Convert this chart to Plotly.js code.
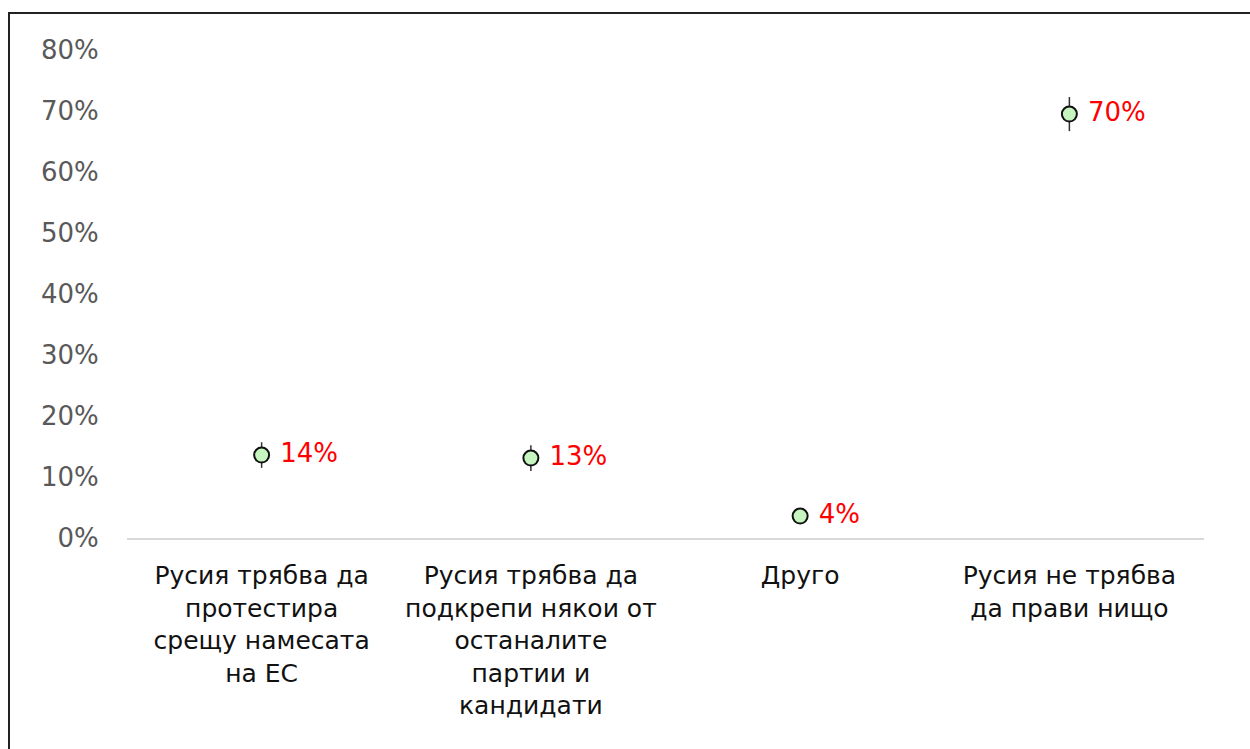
<!DOCTYPE html>
<html lang="bg">
<head>
<meta charset="utf-8">
<script src="https://cdn.plot.ly/plotly-3.0.1.min.js"></script>
<style>
  html, body { margin: 0; padding: 0; background: #fff; overflow: hidden; }
  #chart { width: 1250px; height: 749px; }
  #frame { position: absolute; left: 8px; top: 12px; width: 1300px; height: 800px;
           border-left: 2px solid #222; border-top: 2px solid #222; pointer-events: none; }
</style>
</head>
<body>
<div id="chart"></div>
<div id="frame"></div>
<script>
const categories = [
  "Русия трябва да<br>протестира<br>срещу намесата<br>на ЕС",
  "Русия трябва да<br>подкрепи някои от<br>останалите<br>партии и<br>кандидати",
  "Друго",
  "Русия не трябва<br>да прави нищо"
];
const values = [0.136, 0.131, 0.036, 0.695];
const errors = [0.021, 0.021, 0.010, 0.028];
const labels = ["14%", "13%", "4%", "70%"];

const trace = {
  type: "scatter",
  mode: "markers+text",
  x: categories,
  y: values,
  text: labels.map(l => " " + l),
  textposition: "middle right",
  textfont: { family: "DejaVu Sans, sans-serif", size: 26, color: "#ff0000" },
  marker: { size: 15, color: "#c6f5c0", line: { color: "#111", width: 2 } },
  error_y: { type: "data", array: errors, visible: true, color: "#333", thickness: 1.5, width: 0 },
  cliponaxis: false,
  hoverinfo: "skip"
};

const layout = {
  width: 1250, height: 749,
  margin: { l: 127, r: 46, t: 50, b: 211 },
  paper_bgcolor: "#fff", plot_bgcolor: "#fff",
  showlegend: false,
  font: { family: "DejaVu Sans, sans-serif" },
  xaxis: {
    type: "category",
    range: [-0.5, 3.5],
    showgrid: false, zeroline: false,
    showline: true, linecolor: "#d9d9d9", linewidth: 2,
    ticks: "outside", ticklen: 14, tickcolor: "rgba(0,0,0,0)",
    tickfont: { family: "DejaVu Sans, sans-serif", size: 25, color: "#111" },
    tickangle: 0
  },
  yaxis: {
    range: [0, 0.8], dtick: 0.1, tickformat: ".0%",
    showgrid: false, zeroline: false, showline: false,
    ticks: "outside", ticklen: 22, tickcolor: "rgba(0,0,0,0)",
    tickfont: { family: "DejaVu Sans, sans-serif", size: 26, color: "#595959" }
  }
};

Plotly.newPlot("chart", [trace], layout, { staticPlot: true, displayModeBar: false });
</script>
</body>
</html>
